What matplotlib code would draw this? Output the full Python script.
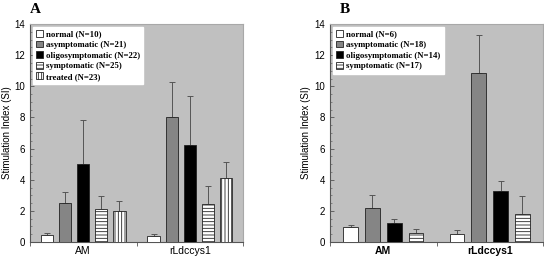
import matplotlib
matplotlib.use("Agg")
import matplotlib.pyplot as plt
import numpy as np

plt.rcParams['hatch.linewidth'] = 0.6

antigens = ["AM", "rLdccys1"]

# Panel A
a_groups = ["normal (N=10)", "asymptomatic (N=21)", "oligosymptomatic (N=22)",
            "symptomatic (N=25)", "treated (N=23)"]
a_means = [[0.45, 0.38], [2.5, 8.05], [5.0, 6.25], [2.1, 2.45], [2.0, 4.1]]
a_err = [[0.15, 0.12], [0.7, 2.2], [2.85, 3.1], [0.87, 1.15], [0.63, 1.05]]

# Panel B
b_groups = ["normal (N=6)", "asymptomatic (N=18)", "oligosymptomatic (N=14)",
            "symptomatic (N=17)"]
b_means = [[0.95, 0.5], [2.2, 10.85], [1.22, 3.3], [0.55, 1.8]]
b_err = [[0.15, 0.28], [0.83, 2.45], [0.28, 0.6], [0.3, 1.17]]

styles = [
    dict(facecolor="white", hatch=None),
    dict(facecolor="#858585", hatch=None),
    dict(facecolor="black", hatch=None),
    dict(facecolor="white", hatch="-----"),
    dict(facecolor="white", hatch="|||||"),
]

fig = plt.figure(figsize=(5.44, 2.56), dpi=100)
axA = fig.add_axes([30/544, 14/256, 213/544, 218/256])
axB = fig.add_axes([330/544, 14/256, 213/544, 218/256])

def draw(ax, groups, means, errs, step, width, bold_ticks, label, lx, ylx):
    x = np.arange(len(antigens))
    n = len(groups)
    for i, g in enumerate(groups):
        off = (i - (n - 1) / 2) * step
        st = styles[i]
        ax.bar(x + off, means[i], width, color=st["facecolor"],
               edgecolor="#222222", linewidth=0.6, hatch=st["hatch"],
               label=g, zorder=3)
        ax.errorbar(x + off, means[i], yerr=[np.zeros(len(x)), errs[i]],
                    fmt="none", ecolor="#555555", elinewidth=0.7, capsize=2,
                    capthick=0.7, zorder=2)
    ax.set_facecolor("#c0c0c0")
    ax.set_xlim(-0.5, 1.5)
    ax.set_ylim(0, 14)
    ax.set_yticks(np.arange(0, 15, 2))
    ax.set_yticks(np.arange(0, 14.01, 0.5), minor=True)
    ax.set_xticks([-0.5, 0.5, 1.5])
    ax.set_xticklabels([])
    ax.set_xticks([0, 1], minor=True)
    ax.set_xticklabels(antigens, minor=True, fontsize=7.5,
                       fontweight="bold" if bold_ticks else "normal",
                       family="Liberation Sans")
    ax.tick_params(axis="x", which="minor", length=0, pad=3)
    ax.tick_params(axis="x", which="major", length=3, width=0.6, color="#555555")
    ax.tick_params(axis="y", which="major", length=3, width=0.6, labelsize=7,
                   direction="in", color="#555555")
    ax.tick_params(axis="y", which="minor", length=1.5, width=0.5,
                   direction="in", color="#666666")
    for lab in ax.get_yticklabels():
        lab.set_family("Liberation Sans")
    for s in ["top", "right"]:
        ax.spines[s].set_color("#a8a8a8")
        ax.spines[s].set_linewidth(0.8)
    for s in ["left", "bottom"]:
        ax.spines[s].set_color("#555555")
        ax.spines[s].set_linewidth(0.8)
    ax.set_ylabel("Stimulation Index (SI)", fontsize=7, family="Liberation Sans",
                  va="center")
    ax.yaxis.set_label_coords(ylx, 0.5)
    ax.legend(loc="upper left", frameon=True, fancybox=False,
              framealpha=1, edgecolor="white", handlelength=0.8,
              handleheight=0.8, handletextpad=0.3, borderaxespad=0.3,
              labelspacing=0.25, borderpad=0.4,
              prop=dict(family="Liberation Serif", weight="bold", size=6.3))
    fig.text(lx / 544, 1 - 16 / 256, label, fontsize=11,
             fontweight="bold", family="Liberation Serif", va="bottom", ha="left")

draw(axA, a_groups, a_means, a_err, 0.17, 0.115, False, "A", 30, -0.107)
draw(axB, b_groups, b_means, b_err, 0.205, 0.14, True, "B", 340, -0.115)

fig.savefig("out.png", dpi=100)
